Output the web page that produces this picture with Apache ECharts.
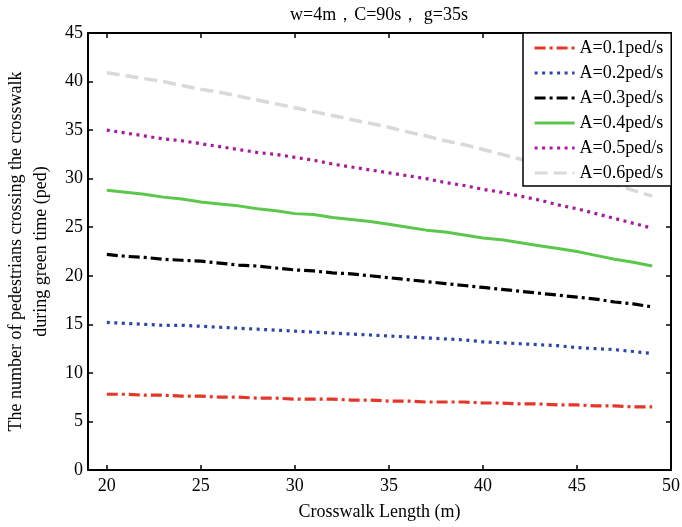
<!DOCTYPE html>
<html>
<head>
<meta charset="utf-8">
<script src="https://cdn.jsdelivr.net/npm/echarts@6/dist/echarts.min.js"></script>
<style>
  html, body { margin: 0; padding: 0; background: #fff; }
  #chart { width: 682px; height: 527px; }
</style>
</head>
<body>
<div id="chart"></div>
<script>
// crosswalk length (m)
const lengths = [20, 21, 22, 23, 24, 25, 26, 27, 28, 29, 30, 31, 32, 33, 34, 35, 36, 37, 38, 39, 40, 41, 42, 43, 44, 45, 46, 47, 48, 49];
const xTicks = [20, 25, 30, 35, 40, 45, 50];
const seriesNames = ['A=0.1ped/s', 'A=0.2ped/s', 'A=0.3ped/s', 'A=0.4ped/s', 'A=0.5ped/s', 'A=0.6ped/s'];

// pedestrians crossing during green time (ped)
const a01 = [7.8, 7.8, 7.7, 7.7, 7.6, 7.6, 7.5, 7.5, 7.4, 7.4, 7.3, 7.3, 7.3, 7.2, 7.2, 7.1, 7.1, 7.0, 7.0, 7.0, 6.9, 6.9, 6.8, 6.8, 6.7, 6.7, 6.6, 6.6, 6.5, 6.5];
const a02 = [15.2, 15.1, 15.0, 14.9, 14.9, 14.8, 14.7, 14.6, 14.5, 14.4, 14.3, 14.2, 14.1, 14.0, 13.9, 13.8, 13.7, 13.6, 13.5, 13.4, 13.2, 13.1, 13.0, 12.9, 12.8, 12.6, 12.5, 12.4, 12.2, 12.0];
const a03 = [22.2, 22.0, 21.9, 21.7, 21.6, 21.5, 21.3, 21.1, 21.0, 20.8, 20.6, 20.5, 20.3, 20.2, 20.0, 19.8, 19.6, 19.4, 19.2, 19.0, 18.8, 18.6, 18.4, 18.2, 18.0, 17.8, 17.6, 17.3, 17.1, 16.8];
const a04 = [28.8, 28.6, 28.4, 28.1, 27.9, 27.6, 27.4, 27.2, 26.9, 26.7, 26.4, 26.3, 26.0, 25.8, 25.6, 25.3, 25.0, 24.7, 24.5, 24.2, 23.9, 23.7, 23.4, 23.1, 22.8, 22.5, 22.1, 21.7, 21.4, 21.0];
const a05 = [35.0, 34.7, 34.4, 34.1, 33.9, 33.6, 33.3, 33.0, 32.7, 32.5, 32.2, 31.9, 31.5, 31.2, 30.9, 30.6, 30.3, 30.0, 29.6, 29.3, 28.9, 28.6, 28.2, 27.8, 27.3, 26.9, 26.4, 25.9, 25.4, 24.9];
const a06 = [40.9, 40.6, 40.3, 40.0, 39.6, 39.2, 38.9, 38.5, 38.1, 37.7, 37.3, 36.9, 36.5, 36.1, 35.7, 35.3, 34.8, 34.4, 33.9, 33.5, 33.0, 32.5, 32.0, 31.5, 31.0, 30.5, 30.0, 29.4, 28.8, 28.2];

const chart = echarts.init(document.getElementById('chart'));
const font = 'Liberation Serif';

// one look per curve, same order as seriesNames
const looks = [
  { color: '#e5362a', width: 3.2, type: [11, 4, 3, 4] },
  { color: '#2d44a8', width: 3.2, type: [3, 4.5] },
  { color: '#000000', width: 3.2, type: [11, 4, 3, 4] },
  { color: '#5cc84b', width: 3, type: 'solid' },
  { color: '#a8199c', width: 3.2, type: [3, 4.5] },
  { color: '#d9d9d9', width: 3.5, type: [13, 6] }
];
const values = [a01, a02, a03, a04, a05, a06];

const series = seriesNames.map((name, i) => ({
  name: name,
  type: 'line',
  symbol: 'none',
  data: lengths.map((x, j) => [x, values[i][j]]),
  lineStyle: { color: looks[i].color, width: looks[i].width, type: looks[i].type },
  itemStyle: { color: looks[i].color },
  z: 2
}));

const boxAxis = {
  axisLine: { show: true, onZero: false, lineStyle: { color: '#000', width: 2 } },
  axisTick: { show: true, inside: true, length: 5, lineStyle: { color: '#000', width: 1.5 } },
  splitLine: { show: false }
};

const options = {
  animation: false,
  backgroundColor: '#fff',
  title: {
    text: 'w=4m，C=90s， g=35s',
    left: 374,
    top: 1,
    textAlign: 'center',
    textStyle: { fontFamily: font, fontSize: 18, fontWeight: 'normal', color: '#000' }
  },
  grid: { left: 88, right: 11, top: 33, bottom: 57, outerBoundsMode: 'none', containLabel: false },
  legend: {
    orient: 'vertical',
    left: 523,
    top: 33,
    data: seriesNames,
    itemWidth: 40,
    itemHeight: 14,
    itemGap: 7,
    itemStyle: { opacity: 0 },
    lineStyle: { width: 3.2 },
    backgroundColor: '#fff',
    borderColor: '#000',
    borderWidth: 1.5,
    borderRadius: 0,
    padding: [6, 8, 4, 10],
    textStyle: { fontFamily: font, fontSize: 18, color: '#000' }
  },
  xAxis: [
    Object.assign({
      type: 'value', min: 19, max: 50, position: 'bottom',
      name: 'Crosswalk Length (m)', nameLocation: 'middle', nameGap: 33,
      nameTextStyle: { fontFamily: font, fontSize: 18, color: '#000' },
      axisLabel: { customValues: xTicks, margin: 7, fontFamily: font, fontSize: 18, color: '#000' }
    }, boxAxis, { axisTick: Object.assign({}, boxAxis.axisTick, { customValues: xTicks }) }),
    Object.assign({
      type: 'value', min: 19, max: 50, position: 'top',
      axisLabel: { show: false }
    }, boxAxis, { axisTick: Object.assign({}, boxAxis.axisTick, { customValues: xTicks }) })
  ],
  yAxis: [
    Object.assign({
      type: 'value', min: 0, max: 45, interval: 5, position: 'left',
      name: 'The number of pedestrians crossing the crosswalk\nduring green time (ped)',
      nameLocation: 'middle', nameGap: 34,
      nameTextStyle: { fontFamily: font, fontSize: 18, color: '#000', lineHeight: 25 },
      axisLabel: { margin: 5, fontFamily: font, fontSize: 18, color: '#000' }
    }, boxAxis),
    Object.assign({
      type: 'value', min: 0, max: 45, interval: 5, position: 'right',
      axisLabel: { show: false }
    }, boxAxis)
  ],
  series: series
};

chart.setOption(options);
</script>
</body>
</html>
